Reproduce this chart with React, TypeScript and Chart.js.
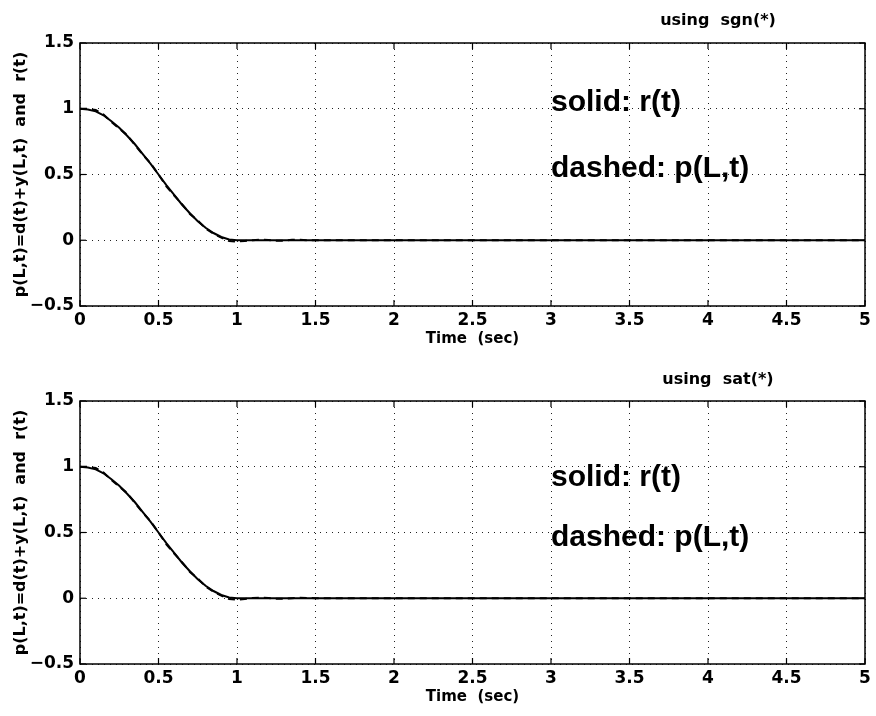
import React, { useEffect, useRef } from "react";
import { Chart, registerables } from "chart.js";

Chart.register(...registerables);

// ---- data ----
const timeSec = [
  0, 0.05, 0.1, 0.15, 0.2, 0.25, 0.3, 0.35, 0.4, 0.45, 0.5, 0.55, 0.6, 0.65, 0.7, 0.75, 0.8, 0.85, 0.9, 0.95,
  1.0, 1.05, 1.1, 1.15, 1.2, 1.25, 1.3, 1.35, 1.4, 1.45, 1.5, 2, 2.5, 3, 3.5, 4, 4.5, 5,
];
const rSgn = [
  1, 0.995, 0.98, 0.95, 0.905, 0.855, 0.795, 0.73, 0.655, 0.58, 0.5, 0.42, 0.345, 0.27, 0.205, 0.145, 0.095, 0.055, 0.025, 0.006,
  0, 0, 0, 0, 0, 0, 0, 0, 0, 0, 0, 0, 0, 0, 0, 0, 0, 0,
];
const pSgn = [
  1, 1.0, 0.99, 0.955, 0.9, 0.85, 0.8, 0.725, 0.65, 0.585, 0.5, 0.41, 0.34, 0.275, 0.2, 0.15, 0.09, 0.05, 0.02, -0.005,
  -0.01, -0.006, 0, 0.004, 0.002, -0.004, -0.003, 0.003, 0.004, 0, 0, 0, 0, 0, 0, 0, 0, 0,
];
const rSat = [
  1, 0.995, 0.98, 0.95, 0.905, 0.855, 0.795, 0.73, 0.655, 0.58, 0.5, 0.42, 0.345, 0.27, 0.205, 0.145, 0.095, 0.055, 0.025, 0.006,
  0, 0, 0, 0, 0, 0, 0, 0, 0, 0, 0, 0, 0, 0, 0, 0, 0, 0,
];
const pSat = [
  1, 1.0, 0.99, 0.955, 0.9, 0.85, 0.8, 0.725, 0.65, 0.585, 0.5, 0.41, 0.34, 0.275, 0.2, 0.15, 0.09, 0.05, 0.02, -0.005,
  -0.012, -0.005, 0.002, 0.005, 0.002, -0.003, -0.004, 0, 0.003, 0.002, 0, 0, 0, 0, 0, 0, 0, 0,
];

const panelTitles = ["using  sgn(*)", "using  sat(*)"];
const yAxisTitle = "p(L,t)=d(t)+y(L,t)  and  r(t)";
const xAxisTitle = "Time  (sec)";
const solidLabel = "solid: r(t)";
const dashedLabel = "dashed: p(L,t)";

const W = 876;
const H = 358;

const fmt = (v: any) => String(Number(v)).replace("-", "\u2212");

const framePlugin = {
  id: "frame",
  afterDraw(chart: any, _args: any, opts: any) {
    const { ctx, chartArea: a, scales } = chart;
    ctx.save();
    ctx.strokeStyle = "#000";
    ctx.lineWidth = 1.5;
    ctx.strokeRect(a.left, a.top, a.right - a.left, a.bottom - a.top);
    ctx.lineWidth = 1.2;
    const L = 6;
    const seg = (x1: number, y1: number, x2: number, y2: number) => {
      ctx.beginPath();
      ctx.moveTo(x1, y1);
      ctx.lineTo(x2, y2);
      ctx.stroke();
    };
    scales.x.ticks.forEach((t: any) => {
      const px = scales.x.getPixelForValue(t.value);
      seg(px, a.bottom, px, a.bottom - L);
      seg(px, a.top, px, a.top + L);
    });
    scales.y.ticks.forEach((t: any) => {
      const py = scales.y.getPixelForValue(t.value);
      seg(a.left, py, a.left + L, py);
      seg(a.right, py, a.right - L, py);
    });
    ctx.fillStyle = "#000";
    ctx.font = 'bold 16px "DejaVu Sans"';
    ctx.textAlign = "center";
    ctx.textBaseline = "alphabetic";
    ctx.fillText(opts.title, opts.titleX, opts.titleY);
    ctx.font = 'bold 30px "Liberation Sans"';
    ctx.textAlign = "left";
    (opts.notes || []).forEach((n: any) => {
      ctx.fillText(n.text, scales.x.getPixelForValue(n.x), scales.y.getPixelForValue(n.y));
    });
    ctx.restore();
  },
};

function Panel(props: { r: number[]; p: number[]; title: string; notes: any[]; titleY: number; top: number }) {
  const ref = useRef<HTMLCanvasElement | null>(null);
  useEffect(() => {
    if (!ref.current) return;
    const chart = new Chart(ref.current, {
      type: "line",
      data: {
        datasets: [
          {
            label: "r(t)",
            data: timeSec.map((t, i) => ({ x: t, y: props.r[i] })),
            borderColor: "#000",
            borderWidth: 2,
            pointRadius: 0,
            tension: 0,
          },
          {
            label: "p(L,t)",
            data: timeSec.map((t, i) => ({ x: t, y: props.p[i] })),
            borderColor: "#000",
            borderWidth: 2,
            borderDash: [7, 5],
            pointRadius: 0,
            tension: 0,
          },
        ],
      },
      options: {
        animation: false,
        responsive: false,
        layout: { padding: { top: 43, right: 11, left: 0, bottom: 0 } },
        plugins: {
          legend: { display: false },
          tooltip: { enabled: false },
          frame: { title: props.title, titleX: 718, titleY: props.titleY, notes: props.notes },
        } as any,
        scales: {
          x: {
            type: "linear",
            min: 0,
            max: 5,
            ticks: {
              stepSize: 0.5,
              color: "#000",
              padding: 4,
              maxRotation: 0,
              font: { family: "DejaVu Sans", size: 17, weight: "bold" },
              callback: fmt,
            },
            grid: { color: "#222", lineWidth: 1, drawTicks: false },
            border: { display: false, dash: [1, 5] },
            title: {
              display: true,
              text: xAxisTitle,
              color: "#000",
              font: { family: "DejaVu Sans", size: 15, weight: "bold" },
              padding: { top: 0, bottom: 10 },
            },
            afterFit: (s: any) => {
              s.height = 52;
            },
          },
          y: {
            type: "linear",
            min: -0.5,
            max: 1.5,
            ticks: {
              stepSize: 0.5,
              color: "#000",
              padding: 6,
              font: { family: "DejaVu Sans", size: 17, weight: "bold" },
              callback: fmt,
            },
            grid: { color: "#222", lineWidth: 1, drawTicks: false },
            border: { display: false, dash: [1, 5] },
            title: {
              display: true,
              text: yAxisTitle,
              color: "#000",
              font: { family: "DejaVu Sans", size: 16, weight: "bold" },
              padding: { top: 11, bottom: 0 },
            },
            afterFit: (s: any) => {
              s.width = 80;
            },
          },
        },
      } as any,
      plugins: [framePlugin],
    });
    return () => chart.destroy();
  }, []);
  return (
    <div style={{ position: "absolute", left: 0, top: props.top, width: W, height: H }}>
      <canvas ref={ref} width={W} height={H} style={{ width: W, height: H, display: "block" }} />
    </div>
  );
}

export default function App() {
  return (
    <div style={{ position: "absolute", left: 0, top: 0, width: W, height: 716, background: "#fff" }}>
      <Panel
        r={rSgn}
        p={pSgn}
        title={panelTitles[0]}
        titleY={25}
        top={0}
        notes={[
          { text: solidLabel, x: 3.0, y: 0.98 },
          { text: dashedLabel, x: 3.0, y: 0.48 },
        ]}
      />
      <Panel
        r={rSat}
        p={pSat}
        title={panelTitles[1]}
        titleY={26}
        top={358}
        notes={[
          { text: solidLabel, x: 3.0, y: 0.85 },
          { text: dashedLabel, x: 3.0, y: 0.4 },
        ]}
      />
    </div>
  );
}
